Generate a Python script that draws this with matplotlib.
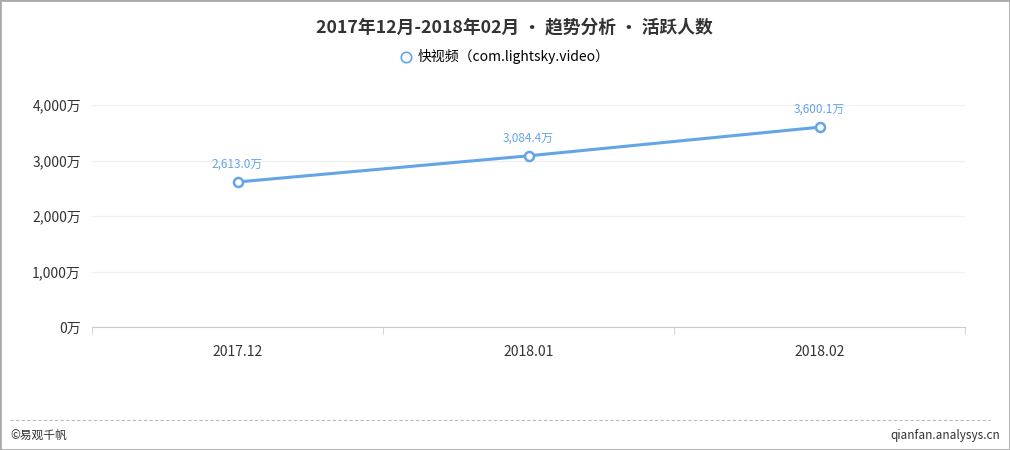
import matplotlib.pyplot as plt
from matplotlib.patches import Rectangle
from matplotlib.lines import Line2D

plt.rcParams['font.family'] = ['Noto Sans CJK SC', 'DejaVu Sans']

months = ['2017.12', '2018.01', '2018.02']
active_users = [2613.0, 3084.4, 3600.1]  # 万
y_ticks = [0, 1000, 2000, 3000, 4000]
series_name = '快视频（com.lightsky.video）'
title = '2017年12月-2018年02月 • 趋势分析 • 活跃人数'

line_color = '#64a5e8'

fig = plt.figure(figsize=(10.1, 4.5), dpi=100)
ax = fig.add_axes([92 / 1010, 1 - 327 / 450, 873 / 1010, 222 / 450])

x = list(range(len(months)))
ax.plot(x, active_users, color=line_color, lw=2.2, marker='o', ms=6.5,
        mfc='white', mec=line_color, mew=1.8, zorder=3)
for xi, v in zip(x, active_users):
    ax.annotate(f'{v:,.1f}万', (xi, v), xytext=(0, 8), textcoords='offset points',
                ha='center', va='bottom', fontsize=8.5, color=line_color)

ax.set_xlim(-0.5, len(months) - 0.5)
ax.set_ylim(0, 4000)
ax.set_yticks(y_ticks)
ax.set_yticklabels([f'{t:,}万' for t in y_ticks], fontsize=10, color='#333333')
ax.set_xticks(x)
ax.set_xticklabels(months, fontsize=10, color='#333333')
ax.set_xticks([i - 0.5 for i in range(len(months) + 1)], minor=True)
ax.tick_params(axis='x', which='major', length=0, pad=13)
ax.tick_params(axis='x', which='minor', length=5, color='#cccccc', direction='out')
ax.tick_params(axis='y', length=0, pad=8)
ax.grid(axis='y', color='#f0f0f0', lw=1)
ax.set_axisbelow(True)
for side in ['top', 'right', 'left']:
    ax.spines[side].set_visible(False)
ax.spines['bottom'].set_color('#cccccc')

fig.text(514 / 1010, 1 - 27 / 450, title, ha='center', va='center', fontsize=12.8,
         fontweight='bold', color='#333333')
handle = Line2D([], [], color='none', marker='o', ms=7.5, mfc='white',
                mec=line_color, mew=1.2)
fig.legend([handle], [series_name], loc='center', bbox_to_anchor=(0.5, 1 - 57 / 450),
           frameon=False, fontsize=10, handlelength=0.8, handletextpad=0.4)

fig.add_artist(Line2D([10 / 1010, 990 / 1010], [1 - 420 / 450] * 2, color='#bbbbbb',
                      lw=0.8, ls=(0, (3, 2)), transform=fig.transFigure))
fig.text(10 / 1010, 1 - 435 / 450, '©易观千帆', ha='left', va='center', fontsize=8.5,
         color='#333333')
fig.text(1000 / 1010, 1 - 435 / 450, 'qianfan.analysys.cn', ha='right', va='center',
         fontsize=8.5, color='#333333')
fig.patches.append(Rectangle((0, 0), 1, 1, transform=fig.transFigure, fill=False,
                             edgecolor='#aaaaaa', lw=2))

fig.savefig('out.png', dpi=100)
